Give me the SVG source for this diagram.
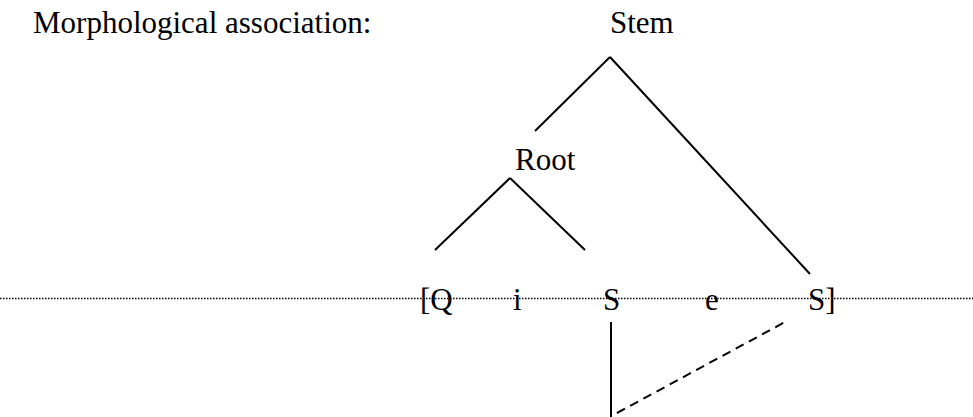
<svg xmlns="http://www.w3.org/2000/svg" width="973" height="417" viewBox="0 0 973 417">
<style>
text{font-family:"Liberation Serif","Times New Roman",serif;font-size:31px;fill:#000}
.l{stroke:#000;stroke-width:2;fill:none}
.dot{stroke:#000;stroke-width:1.3;stroke-dasharray:1.5,1.5;fill:none}
.dash{stroke:#000;stroke-width:2;stroke-dasharray:9,6;fill:none}
</style>
<rect width="973" height="417" fill="#fff"/>
<text x="33" y="33">Morphological association:</text>
<g id="connectors">
<line class="dot" x1="0" y1="298.5" x2="973" y2="298.5"/>
<line class="l" x1="610" y1="57" x2="535" y2="131"/>
<line class="l" x1="610" y1="57" x2="810" y2="274"/>
<line class="l" x1="510" y1="178" x2="435" y2="250"/>
<line class="l" x1="510" y1="178" x2="585" y2="250"/>
<line class="l" x1="611" y1="322" x2="611" y2="417"/>
<line class="dash" x1="617" y1="413" x2="785" y2="322"/>
</g>
<g id="stem"><text x="610" y="33">Stem</text></g>
<g id="root"><text x="515" y="170">Root</text></g>
<g id="seg-Q"><text x="420" y="310">[Q</text></g>
<g id="seg-i"><text x="513" y="310">i</text></g>
<g id="seg-S1"><text x="603" y="310">S</text></g>
<g id="seg-e"><text x="705" y="310">e</text></g>
<g id="seg-S2"><text x="808" y="310">S]</text></g>
</svg>
